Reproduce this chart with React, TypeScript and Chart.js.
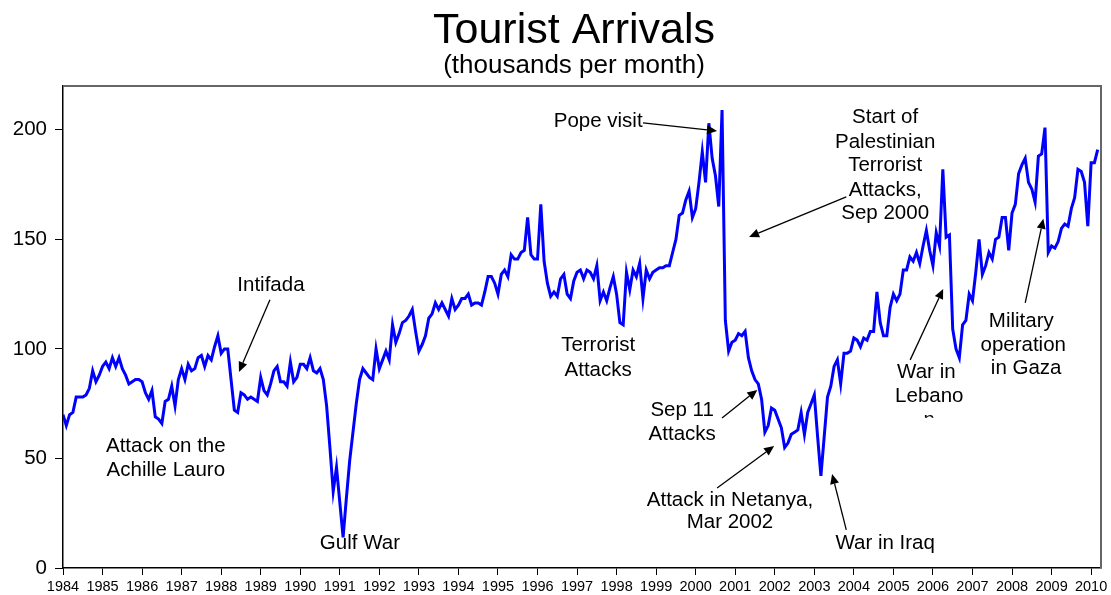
import React, { useEffect, useRef } from 'react';
import { Chart, registerables } from 'chart.js';

Chart.register(...registerables);

// Year tick labels (one tick every 12 months, starting Jan 1984)
const YEAR_LABELS = [
  '1984', '1985', '1986', '1987', '1988', '1989', '1990', '1991', '1992',
  '1993', '1994', '1995', '1996', '1997', '1998', '1999', '2000', '2001',
  '2002', '2003', '2004', '2005', '2006', '2007', '2008', '2009', '2010',
];

const Y_TICKS = [0, 50, 100, 150, 200];

// Monthly tourist arrivals (thousands), Jan 1984 onward
const MONTHLY_ARRIVALS = [
  70, 65, 70, 71, 78, 78, 78, 79, 82, 90, 85, 88, // 1984
  92, 94, 91, 96, 92, 96, 91, 88, 84, 85, 86, 86, // 1985
  85, 80, 77, 81, 69, 68, 66, 76, 77, 83, 74, 86, // 1986
  91, 86, 93, 90, 91, 96, 97, 92, 97, 95, 101, 106, // 1987
  98, 100, 100, 86, 72, 71, 80, 79, 77, 78, 77, 76, // 1988
  87, 81, 79, 84, 90, 92, 85, 85, 83, 94, 85, 87, // 1989
  93, 93, 91, 96, 90, 89, 91, 86, 74, 55, 35, 46, // 1990
  30, 14, 32, 49, 62, 75, 86, 91, 89, 87, 86, 100, // 1991
  91, 95, 99, 95, 111, 103, 107, 112, 113, 115, 118, 108, // 1992
  99, 102, 106, 114, 116, 121, 118, 121, 118, 115, 123, 118, // 1993
  120, 123, 123, 125, 120, 121, 121, 120, 126, 133, 133, 130, // 1994
  125, 134, 136, 133, 143, 141, 141, 144, 145, 160, 143, 141, // 1995
  141, 166, 140, 130, 124, 126, 124, 132, 134, 125, 123, 131, // 1996
  135, 136, 132, 136, 135, 132, 138, 122, 126, 122, 128, 133, // 1997
  125, 112, 111, 135, 127, 136, 133, 139, 123, 136, 132, 135, // 1998
  136, 137, 137, 138, 138, 144, 150, 161, 162, 168, 172, 160, // 1999
  164, 176, 190, 176, 203, 187, 179, 165, 209, 113, 99, 103, // 2000
  104, 107, 106, 108, 96, 90, 86, 84, 77, 62, 65, 73, // 2001
  72, 68, 64, 55, 57, 61, 62, 63, 71, 61, 71, 75, // 2002
  79, 60, 42, 60, 78, 83, 92, 95, 84, 98, 98, 99, // 2003
  105, 104, 101, 105, 104, 108, 108, 126, 112, 106, 106, 119, // 2004
  125, 122, 125, 136, 136, 142, 140, 144, 139, 147, 154, 145, // 2005
  138, 153, 147, 182, 151, 152, 109, 100, 96, 111, 113, 125, // 2006
  122, 135, 150, 134, 138, 144, 141, 150, 151, 160, 160, 145, // 2007
  162, 166, 180, 184, 187, 176, 173, 167, 188, 189, 201, 144, // 2008
  147, 146, 149, 155, 157, 156, 164, 169, 182, 181, 176, 156, // 2009
  185, 185, 191, // 2010
];

// Annotation text lines, anchored in data units (x = month index, y = thousands)
const NOTE_TEXTS = [
  { text: 'Intifada', x: 63.1, y: 129.2 },
  { text: 'Attack on the', x: 31.2, y: 55.3 },
  { text: 'Achille Lauro', x: 31.2, y: 44.7 },
  { text: 'Gulf War', x: 90.1, y: 11.4 },
  { text: 'Pope visit', x: 162.4, y: 203.7 },
  { text: 'Terrorist', x: 162.4, y: 101.4 },
  { text: 'Attacks', x: 162.4, y: 90.4 },
  { text: 'Sep 11', x: 187.9, y: 72.1 },
  { text: 'Attacks', x: 187.9, y: 61.2 },
  { text: 'Attack in Netanya,', x: 202.4, y: 31.1 },
  { text: 'Mar 2002', x: 202.4, y: 21.0 },
  { text: 'War in Iraq', x: 249.5, y: 11.4 },
  { text: 'Start of', x: 249.5, y: 205.5 },
  { text: 'Palestinian', x: 249.5, y: 194.5 },
  { text: 'Terrorist', x: 249.5, y: 183.6 },
  { text: 'Attacks,', x: 249.5, y: 172.6 },
  { text: 'Sep 2000', x: 249.5, y: 162.1 },
  { text: 'War in', x: 262.0, y: 89.3 },
  { text: 'Lebano', x: 262.9, y: 78.3 },
  { text: 'Military', x: 290.8, y: 112.5 },
  { text: 'operation', x: 291.4, y: 101.8 },
  { text: 'in Gaza', x: 292.3, y: 91.1 },
];

// Clipped trailing letter of "Lebanon" (only its top shows)
const NOTE_CLIPPED = [{ text: 'n', x: 262.9, y: 67.4, clipY: 68.6 }];

// Arrows from (x1,y1) to arrow tip (x2,y2), data units
const NOTE_ARROWS = [
  { x1: 62.8, y1: 122.4, x2: 53.4, y2: 89.5 },
  { x1: 176.0, y1: 203.2, x2: 198.5, y2: 199.5 },
  { x1: 200.0, y1: 68.5, x2: 210.7, y2: 81.3 },
  { x1: 198.5, y1: 36.5, x2: 215.8, y2: 55.7 },
  { x1: 237.7, y1: 17.4, x2: 233.4, y2: 42.9 },
  { x1: 237.7, y1: 169.4, x2: 208.2, y2: 151.1 },
  { x1: 257.1, y1: 95.0, x2: 267.1, y2: 127.4 },
  { x1: 292.0, y1: 121.0, x2: 297.5, y2: 159.4 },
];

const TITLE = 'Tourist Arrivals';
const SUBTITLE = '(thousands per month)';

const FONT = "'Liberation Sans', Arial, Helvetica, sans-serif";

export default function App() {
  const ref = useRef<HTMLCanvasElement>(null);

  useEffect(() => {
    const canvas = ref.current;
    if (!canvas) return;

    const overlay = {
      id: 'overlay',
      afterDatasetsDraw(chart: any) {
        const { ctx, chartArea, scales } = chart;
        const xs = scales.x;
        const ys = scales.y;
        ctx.save();
        // top & right frame
        ctx.strokeStyle = '#666666';
        ctx.lineWidth = 2;
        ctx.beginPath();
        ctx.moveTo(chartArea.left, chartArea.top);
        ctx.lineTo(chartArea.right, chartArea.top);
        ctx.lineTo(chartArea.right, chartArea.bottom);
        ctx.stroke();

        // texts
        ctx.fillStyle = '#000';
        ctx.font = `20.5px ${FONT}`;
        ctx.textAlign = 'center';
        ctx.textBaseline = 'middle';
        NOTE_TEXTS.forEach((n) => {
          ctx.fillText(n.text, xs.getPixelForValue(n.x), ys.getPixelForValue(n.y));
        });
        NOTE_CLIPPED.forEach((n) => {
          ctx.save();
          ctx.beginPath();
          ctx.rect(0, 0, chart.width, ys.getPixelForValue(n.clipY));
          ctx.clip();
          ctx.fillText(n.text, xs.getPixelForValue(n.x), ys.getPixelForValue(n.y));
          ctx.restore();
        });

        // arrows
        ctx.strokeStyle = '#000';
        ctx.lineWidth = 1.3;
        NOTE_ARROWS.forEach((a) => {
          const x1 = xs.getPixelForValue(a.x1);
          const y1 = ys.getPixelForValue(a.y1);
          const x2 = xs.getPixelForValue(a.x2);
          const y2 = ys.getPixelForValue(a.y2);
          const ang = Math.atan2(y2 - y1, x2 - x1);
          const hl = 10;
          const hw = 4.5;
          const bx = x2 - hl * Math.cos(ang);
          const by = y2 - hl * Math.sin(ang);
          ctx.beginPath();
          ctx.moveTo(x1, y1);
          ctx.lineTo(bx, by);
          ctx.stroke();
          ctx.beginPath();
          ctx.moveTo(x2, y2);
          ctx.lineTo(bx + hw * Math.sin(ang), by - hw * Math.cos(ang));
          ctx.lineTo(bx - hw * Math.sin(ang), by + hw * Math.cos(ang));
          ctx.closePath();
          ctx.fill();
        });
        ctx.restore();
      },
      afterDraw(chart: any) {
        const { ctx } = chart;
        ctx.save();
        ctx.fillStyle = '#000';
        ctx.textAlign = 'center';
        ctx.textBaseline = 'alphabetic';
        ctx.font = `43px ${FONT}`;
        ctx.fillText(TITLE, 574, 43);
        ctx.font = `26px ${FONT}`;
        ctx.fillText(SUBTITLE, 574, 73);
        ctx.restore();
      },
    };

    const chart = new Chart(canvas, {
      type: 'line',
      data: {
        datasets: [
          {
            data: MONTHLY_ARRIVALS.map((v, i) => ({ x: i, y: v })),
            borderColor: '#0000FF',
            borderWidth: 3,
            pointRadius: 0,
            tension: 0,
            fill: false,
          },
        ],
      },
      options: {
        animation: false,
        responsive: false,
        devicePixelRatio: 1,
        layout: { padding: { top: 86, right: 10, left: 0, bottom: 0 } },
        plugins: {
          legend: { display: false },
          tooltip: { enabled: false },
          title: { display: false },
        },
        scales: {
          x: {
            type: 'linear',
            min: 0,
            max: 315,
            afterBuildTicks: (s: any) => {
              s.ticks = YEAR_LABELS.map((_, k) => ({ value: k * 12 }));
            },
            afterFit: (s: any) => {
              s.height = 27;
            },
            ticks: {
              autoSkip: false,
              maxRotation: 0,
              color: '#000',
              padding: 3,
              font: { family: FONT, size: 14.5 },
              callback: (v: any) => YEAR_LABELS[Math.round(Number(v) / 12)],
            },
            grid: { drawOnChartArea: false, drawTicks: true, tickLength: 7, color: '#000', lineWidth: 1 },
            border: { display: true, color: '#000', width: 1.5 },
          },
          y: {
            type: 'linear',
            min: 0,
            max: 220,
            afterBuildTicks: (s: any) => {
              s.ticks = Y_TICKS.map((v) => ({ value: v }));
            },
            afterFit: (s: any) => {
              s.width = 63;
            },
            ticks: {
              color: '#000',
              padding: 8,
              font: { family: FONT, size: 20.5 },
            },
            grid: { drawOnChartArea: false, drawTicks: true, tickLength: 8, color: '#000', lineWidth: 1 },
            border: { display: true, color: '#000', width: 1.5 },
          },
        },
      },
      plugins: [overlay],
    });

    return () => chart.destroy();
  }, []);

  return (
    <div style={{ position: 'fixed', left: 0, top: 0, width: 1111, height: 595, background: '#fff' }}>
      <canvas ref={ref} width={1111} height={595} style={{ display: 'block' }} />
    </div>
  );
}
